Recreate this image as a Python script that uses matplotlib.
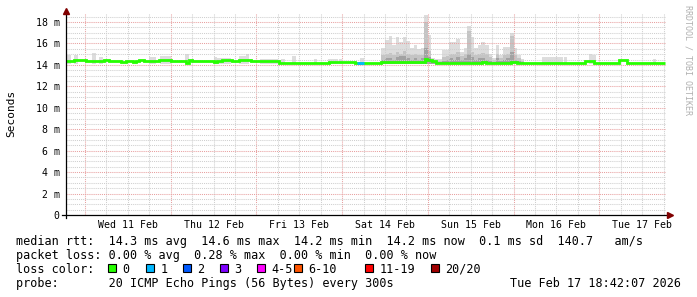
import numpy as np
import matplotlib
matplotlib.use("Agg")
import matplotlib.pyplot as plt
from matplotlib.patches import Rectangle

# =====================================================================
# DATA  (x = hours since Wed 11 Feb 00:00, y = milliseconds)
# =====================================================================

x_start = -5.3
x_end = 162.7

day_labels = [
    "Wed 11 Feb", "Thu 12 Feb", "Fri 13 Feb", "Sat 14 Feb",
    "Sun 15 Feb", "Mon 16 Feb", "Tue 17 Feb"
]
day_noon = [12, 36, 60, 84, 108, 132, 156]
midnights = [0, 24, 48, 72, 96, 120, 144]

y_ticks = [0, 2, 4, 6, 8, 10, 12, 14, 16, 18]
y_tick_labels = ["0", "2 m", "4 m", "6 m", "8 m", "10 m",
                 "12 m", "14 m", "16 m", "18 m"]

# median rtt as a step line
median_edges = [
    -5.3, -3.2, 0.2, 5.2, 6.6, 10.0, 11.4, 13.4, 14.2, 15.0, 16.4,
    20.6, 24.0, 28.2, 29.0, 30.1, 36.0, 37.1, 38.5, 41.3, 43.0, 45.0,
    46.4, 49.2, 54.2, 68.2, 73.0, 74.4, 75.7, 76.3, 78.0, 82.8, 95.1,
    95.9, 97.3, 98.2, 111.3, 112.2, 119.2, 121.1, 140.1, 142.4, 149.4,
    151.9, 162.3
]
median_ms = [
    14.4, 14.5, 14.4, 14.5, 14.4, 14.3, 14.4, 14.3, 14.4, 14.45,
    14.4, 14.45, 14.4, 14.2, 14.45, 14.4, 14.3, 14.4, 14.45, 14.4,
    14.45, 14.5, 14.4, 14.38, 14.2, 14.3, 14.25, 14.3, 14.2, 14.2,
    14.2, 14.25, 14.55, 14.5, 14.35, 14.2, 14.3, 14.2, 14.3, 14.2,
    14.35, 14.2, 14.45, 14.2
]
# loss class index of each median segment (0 = no loss, 1 = one lost)
median_loss = [0] * 29 + [1] + [0] * 14

# light smoke blips (hourly bins)
blip_hour = [-5, -3, 2, 4, 18, 19, 21, 22, 23, 28, 36, 37, 38, 39, 40,
             43, 44, 45, 49, 50, 51, 52, 53, 55, 58, 64, 68, 69, 70, 71,
             77, 128, 129, 130, 131, 132, 133, 134, 141, 142, 159]
blip_top = [14.9, 14.9, 15.1, 14.7, 14.7, 14.7, 14.8, 14.8, 14.8, 15.0,
            14.7, 14.6, 14.6, 14.6, 14.6, 14.8, 14.8, 15.0, 14.55, 14.55,
            14.55, 14.55, 14.55, 14.55, 14.8, 14.55, 14.55, 14.55, 14.55,
            14.55, 14.6, 14.7, 14.7, 14.7, 14.7, 14.7, 14.7, 14.7, 15.0,
            14.9, 14.55]

# heavy smoke Sat 14 / Sun 15 (hourly bins from 83 h)
busy_first_hour = 83
busy_top = [15.55, 16.3, 16.7, 15.9, 16.6, 16.1, 16.6, 16.2, 15.6, 15.9,
            15.5, 15.6, 18.65, 16.8, 14.6, 14.55, 14.55, 15.4, 15.4, 16.1,
            16.1, 16.4, 15.2, 15.6, 17.6, 16.6, 15.6, 15.9, 16.1, 15.9,
            15.0, 14.6, 15.9, 14.9, 15.7, 15.7, 17.0, 15.6, 14.9, 14.55]
busy_mid = [14.9, 15.0, 15.1, 14.9, 15.2, 15.0, 15.3, 15.0, 14.9, 15.0,
            14.9, 14.9, 18.0, 15.3, 14.5, 14.4, 14.4, 14.7, 14.8, 15.0,
            15.0, 15.2, 14.8, 15.0, 17.2, 15.2, 14.9, 15.0, 15.1, 15.0,
            14.7, 14.5, 15.0, 14.6, 14.9, 15.0, 16.7, 14.9, 14.6, 14.4]
busy_dark = [14.5, 14.6, 14.6, 14.5, 14.7, 14.8, 14.8, 14.6, 14.5, 14.6,
             14.5, 14.6, 15.6, 14.7, 14.3, 14.3, 14.3, 14.4, 14.5, 14.6,
             14.5, 14.7, 14.5, 14.6, 15.0, 14.7, 14.5, 14.6, 14.6, 14.5,
             14.4, 14.3, 14.6, 14.4, 14.5, 14.6, 15.2, 14.5, 14.4, 14.3]
smoke_floor = 14.1

loss_labels = ["0", "1", "2", "3", "4-5", "6-10", "11-19", "20/20"]
loss_colors = ["#26ff00", "#00b8ff", "#0059ff", "#7e00ff",
               "#ff00ff", "#ff5500", "#ff0000", "#a00000"]

legend_rtt = ("median rtt:  14.3 ms avg  14.6 ms max  14.2 ms min  "
              "14.2 ms now  0.1 ms sd  140.7   am/s")
legend_loss = "packet loss: 0.00 % avg  0.28 % max  0.00 % min  0.00 % now"
legend_probe = "probe:       20 ICMP Echo Pings (56 Bytes) every 300s"
stamp = "Tue Feb 17 18:42:07 2026"

# =====================================================================
# FIGURE
# =====================================================================

W, H = 697, 297
MONO = "DejaVu Sans Mono"

fig = plt.figure(figsize=(W / 100, H / 100), dpi=100)
fig.patch.set_facecolor("white")


def fx(px):
    return px / W


def fy(py):
    return 1 - py / H


ax = fig.add_axes([fx(66), fy(215), 600 / W, (215 - 13) / H])
ax.set_xlim(x_start, x_end)
ax.set_ylim(0, 18.84)
for s in ax.spines.values():
    s.set_visible(False)

# smoke
busy_hour = np.arange(len(busy_top)) + busy_first_hour
blip_top = np.array(blip_top)
busy_top = np.array(busy_top)
busy_mid = np.array(busy_mid)
busy_dark = np.array(busy_dark)

ax.bar(blip_hour, blip_top - smoke_floor, bottom=smoke_floor, width=1,
       align="edge", color="#dddddd", linewidth=0)
ax.bar(busy_hour, busy_top - smoke_floor, bottom=smoke_floor, width=1,
       align="edge", color="#dddddd", linewidth=0)
ax.bar(busy_hour, busy_mid - smoke_floor, bottom=smoke_floor, width=1,
       align="edge", color="#c4c4c4", linewidth=0)
ax.bar(busy_hour, busy_dark - smoke_floor, bottom=smoke_floor, width=1,
       align="edge", color="#a2a2a2", linewidth=0)

# median line coloured by loss
ax.stairs(median_ms, median_edges, color=loss_colors[0], linewidth=2.0,
          baseline=None, zorder=3)
lossy = [i for i, k in enumerate(median_loss) if k > 0]
ax.hlines([median_ms[i] for i in lossy],
          [median_edges[i] for i in lossy],
          [median_edges[i + 1] for i in lossy],
          colors=[loss_colors[median_loss[i]] for i in lossy],
          linewidth=2.0, zorder=4)

# grid
ax.set_xticks(midnights)
ax.set_xticks(np.arange(0, 163, 6), minor=True)
ax.set_yticks(y_ticks, y_tick_labels)
ax.set_yticks(np.arange(0, 18.9, 0.5), minor=True)
ax.tick_params(which="both", length=0)
ax.tick_params(axis="x", labelbottom=False)
ax.tick_params(axis="y", pad=4.6, labelsize=7.1)
for lab in ax.get_yticklabels():
    lab.set_fontfamily(MONO)
ax.grid(which="major", color="#e8a0a0", linestyle=(0, (1, 1)),
        linewidth=0.75)
ax.grid(which="minor", color="#cfcfcf", linestyle=(0, (1, 1)),
        linewidth=0.75)
ax.set_axisbelow("line")

# day labels at noon
for x, lab in zip(day_noon, day_labels):
    ax.text(x, -12.5 / 202, lab, transform=ax.get_xaxis_transform(),
            ha="center", va="baseline", fontsize=7.1, family=MONO)

# axis lines with arrows
ax.plot([-4 / 600, 1 + 2 / 600], [0, 0], transform=ax.transAxes,
        color="black", linewidth=0.9, clip_on=False, zorder=5)
ax.plot([0, 0], [-3 / 202, 1 + 1 / 202], transform=ax.transAxes,
        color="black", linewidth=0.9, clip_on=False, zorder=5)
ax.plot([1 + 4 / 600], [0], marker=">", markersize=4.2, color="#800000",
        transform=ax.transAxes, clip_on=False, zorder=6)
ax.plot([0], [1 + 2 / 202], marker="^", markersize=4.2, color="#800000",
        transform=ax.transAxes, clip_on=False, zorder=6)

# =====================================================================
# TEXT AROUND THE PLOT
# =====================================================================

fig.text(fx(11), fy(113), "Seconds", rotation=90, ha="center",
         va="center", fontsize=8, family=MONO)
fig.text(fx(688), fy(60), "RRDTOOL / TOBI OETIKER", rotation=270,
         ha="center", va="center", fontsize=6, family=MONO, color="#b0b0b0")

fig.text(fx(16), fy(245), legend_rtt, fontsize=8.5, family=MONO,
         va="baseline")
fig.text(fx(16), fy(259), legend_loss, fontsize=8.5, family=MONO,
         va="baseline")
fig.text(fx(16), fy(273), "loss color:", fontsize=8.5, family=MONO,
         va="baseline")
fig.text(fx(16), fy(287), legend_probe, fontsize=8.5, family=MONO,
         va="baseline")
fig.text(fx(681), fy(287), stamp, fontsize=8.5, family=MONO,
         va="baseline", ha="right")

box_left = [108, 146, 183, 220, 257, 294, 365, 431]
for bx, lab, col in zip(box_left, loss_labels, loss_colors):
    fig.add_artist(Rectangle((fx(bx), fy(272)), 8 / W, 8 / H,
                             facecolor=col, edgecolor="black",
                             linewidth=0.8, transform=fig.transFigure))
    fig.text(fx(bx + 14.3), fy(273), lab, fontsize=8.5, family=MONO,
             va="baseline")

fig.savefig("out.png", dpi=100)
